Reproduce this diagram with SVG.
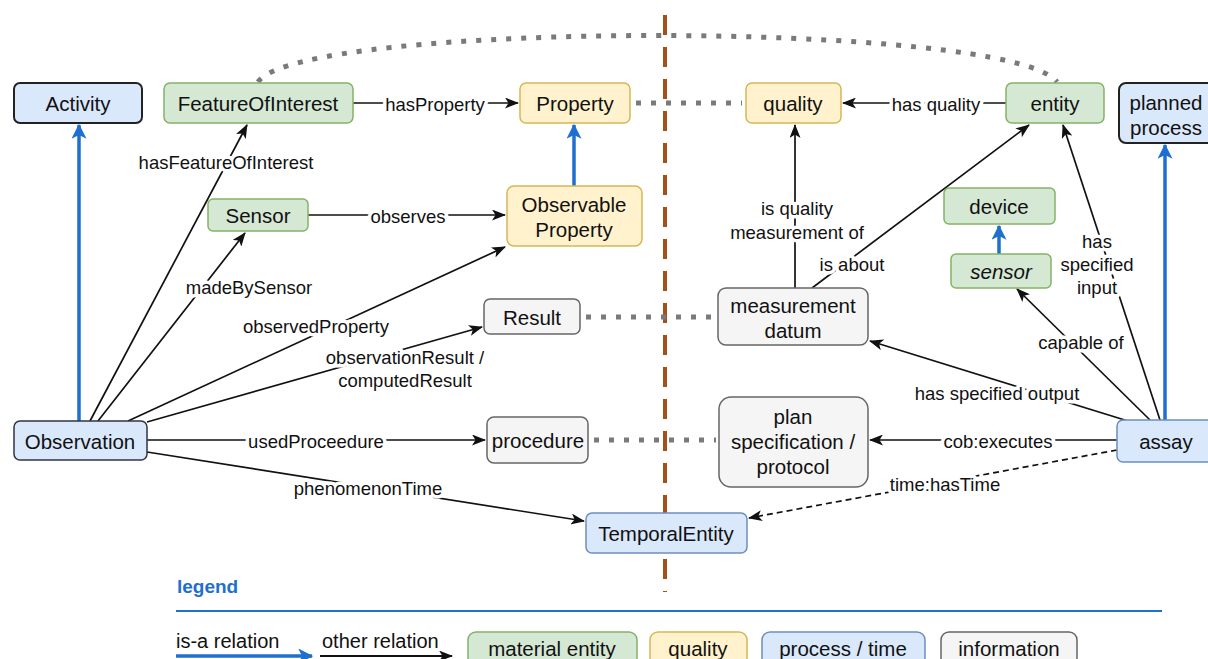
<svg xmlns="http://www.w3.org/2000/svg" width="1208" height="659" viewBox="0 0 1208 659">
<style>
text{font-family:"Liberation Sans",Arial,sans-serif;fill:#111}
.n{font-size:20.5px;text-anchor:middle;dominant-baseline:central}
.l{font-size:18.5px;text-anchor:middle;dominant-baseline:central;stroke:#fff;stroke-width:7px;paint-order:stroke;stroke-linejoin:round}
.g rect{fill:#d5e8d4;stroke:#82b366;stroke-width:1.5}
.y rect{fill:#fff2cc;stroke:#d6b656;stroke-width:1.5}
.b rect{fill:#dae8fc;stroke:#6c8ebf;stroke-width:1.5}
.bd rect{fill:#dae8fc;stroke:#222;stroke-width:2}
.i rect{fill:#f5f5f5;stroke:#666;stroke-width:1.5}
.e{stroke:#111;stroke-width:1.7;fill:none;marker-end:url(#ah)}
.isa{stroke:#1f6fd1;stroke-width:3.5;fill:none;marker-end:url(#bh)}
.dot{stroke:#7a7a7a;stroke-width:5;stroke-dasharray:5 10;fill:none}
</style>
<defs>
<marker id="ah" viewBox="0 0 14 11" refX="13" refY="5.5" markerWidth="14" markerHeight="11" markerUnits="userSpaceOnUse" orient="auto"><path d="M0,0 L14,5.5 L0,11 L3.5,5.5 z" fill="#111"/></marker>
<marker id="bh" viewBox="0 0 12 12" refX="11" refY="6" markerWidth="15" markerHeight="15" markerUnits="userSpaceOnUse" orient="auto"><path d="M0,0 L12,6 L0,12 L3,6 z" fill="#1f6fd1"/></marker>
</defs>
<rect width="1208" height="659" fill="#fff"/>
<line x1="665" y1="15" x2="665" y2="592" stroke="#a0521b" stroke-width="4" stroke-dasharray="20 12"/>
<g id="connectors">
<path class="dot" d="M258,82 C300,20 1010,20 1057,82"/>
<line class="dot" x1="636" y1="103" x2="742" y2="103"/>
<line class="dot" x1="586" y1="317" x2="714" y2="317"/>
<line class="dot" x1="594" y1="440" x2="716" y2="440"/>
<line class="isa" x1="79" y1="421" x2="79" y2="125"/>
<line class="isa" x1="1165" y1="420" x2="1165" y2="145"/>
<line class="isa" x1="574" y1="186" x2="574" y2="125"/>
<line class="isa" x1="999" y1="254" x2="999" y2="226"/>
<line class="e" x1="353" y1="103" x2="518" y2="103"/>
<text class="l" x="435" y="104">hasProperty</text>
<line class="e" x1="1006" y1="103" x2="843" y2="103"/>
<text class="l" x="936" y="104">has quality</text>
<line class="e" x1="90" y1="421" x2="247" y2="125"/>
<text class="l" x="226" y="162">hasFeatureOfInterest</text>
<line class="e" x1="98" y1="421" x2="245" y2="233"/>
<text class="l" x="249" y="287">madeBySensor</text>
<line class="e" x1="128" y1="421" x2="505" y2="247"/>
<text class="l" x="316" y="326">observedProperty</text>
<line class="e" x1="147" y1="422" x2="482" y2="327"/>
<text class="l" x="405" y="357">observationResult /</text>
<text class="l" x="405" y="380">computedResult</text>
<line class="e" x1="147" y1="440" x2="485" y2="440"/>
<text class="l" x="316" y="441">usedProceedure</text>
<line class="e" x1="147" y1="452" x2="584" y2="521"/>
<text class="l" x="368" y="488">phenomenonTime</text>
<line class="e" x1="308" y1="215" x2="505" y2="215"/>
<text class="l" x="408" y="216">observes</text>
<line class="e" x1="795" y1="288" x2="795" y2="125"/>
<text class="l" x="797" y="208">is quality</text>
<text class="l" x="797" y="232">measurement of</text>
<line class="e" x1="812" y1="288" x2="1029" y2="125"/>
<text class="l" x="852" y="264">is about</text>
<line class="e" x1="1160" y1="420" x2="1063" y2="125"/>
<text class="l" x="1097" y="241">has</text>
<text class="l" x="1097" y="264">specified</text>
<text class="l" x="1097" y="287">input</text>
<line class="e" x1="1150" y1="420" x2="1017" y2="289"/>
<text class="l" x="1081" y="342">capable of</text>
<line class="e" x1="1128" y1="421" x2="870" y2="341"/>
<text class="l" x="997" y="393">has specified output</text>
<line class="e" x1="1117" y1="440" x2="870" y2="440"/>
<text class="l" x="998" y="441">cob:executes</text>
<line class="e" x1="1117" y1="450" x2="749" y2="518" stroke-dasharray="6 4"/>
<text class="l" x="945" y="484">time:hasTime</text>
</g>
<g id="Activity" class="bd"><rect x="14" y="83" width="128" height="40" rx="6"/><text class="n" x="78" y="103">Activity</text></g>
<g id="FeatureOfInterest" class="g"><rect x="164" y="83" width="189" height="40" rx="6"/><text class="n" x="258" y="103">FeatureOfInterest</text></g>
<g id="Property" class="y"><rect x="520" y="83" width="110" height="40" rx="6"/><text class="n" x="575" y="103">Property</text></g>
<g id="quality" class="y"><rect x="746" y="83" width="95" height="40" rx="6"/><text class="n" x="793" y="103">quality</text></g>
<g id="entity" class="g"><rect x="1006" y="83" width="98" height="40" rx="6"/><text class="n" x="1055" y="103">entity</text></g>
<g id="plannedProcess" class="bd"><rect x="1119" y="83" width="100" height="60" rx="7"/><text class="n" x="1166" y="102">planned</text><text class="n" x="1166" y="127">process</text></g>
<g id="Sensor" class="g"><rect x="208" y="199" width="100" height="32" rx="5"/><text class="n" x="258" y="215">Sensor</text></g>
<g id="ObservableProperty" class="y"><rect x="507" y="186" width="135" height="60" rx="7"/><text class="n" x="574" y="204">Observable</text><text class="n" x="574" y="229">Property</text></g>
<g id="device" class="g"><rect x="944" y="188" width="111" height="36" rx="5"/><text class="n" x="999" y="206">device</text></g>
<g id="sensor" class="g"><rect x="951" y="254" width="100" height="34" rx="5"/><text class="n" x="1001" y="271" font-style="italic">sensor</text></g>
<g id="Result" class="i"><rect x="484" y="299" width="96" height="35" rx="6"/><text class="n" x="532" y="317">Result</text></g>
<g id="measurementDatum" class="i"><rect x="718" y="288" width="150" height="57" rx="8"/><text class="n" x="793" y="305">measurement</text><text class="n" x="793" y="330">datum</text></g>
<g id="Observation" class="b"><rect x="14" y="421" width="133" height="39" rx="6" style="stroke:#334"/><text class="n" x="80" y="441">Observation</text></g>
<g id="procedure" class="i"><rect x="487" y="417" width="101" height="46" rx="7"/><text class="n" x="538" y="440">procedure</text></g>
<g id="planSpecification" class="i"><rect x="719" y="397" width="149" height="90" rx="12"/><text class="n" x="793" y="416">plan</text><text class="n" x="793" y="441">specification /</text><text class="n" x="793" y="466">protocol</text></g>
<g id="assay" class="b"><rect x="1117" y="420" width="100" height="42" rx="6"/><text class="n" x="1166" y="441">assay</text></g>
<g id="TemporalEntity" class="b"><rect x="586" y="513" width="161" height="40" rx="6"/><text class="n" x="666" y="533">TemporalEntity</text></g>
<g id="legend">
<text x="177" y="593" style="font-size:19px;font-weight:bold;fill:#1f6fd1">legend</text>
<line x1="176" y1="611" x2="1162" y2="611" stroke="#1f6fd1" stroke-width="2"/>
<text x="176" y="648" style="font-size:20px">is-a relation</text>
<line class="isa" x1="176" y1="656" x2="312" y2="656"/>
<text x="322" y="648" style="font-size:20px">other relation</text>
<line x1="320" y1="656" x2="452" y2="656" stroke="#111" stroke-width="2" marker-end="url(#ah)"/>
<g class="g"><rect x="468" y="632" width="169" height="34" rx="8"/><text class="n" x="552" y="648">material entity</text></g>
<g class="y"><rect x="650" y="632" width="97" height="34" rx="8"/><text class="n" x="698" y="648">quality</text></g>
<g class="b"><rect x="762" y="632" width="163" height="34" rx="8"/><text class="n" x="843" y="648">process / time</text></g>
<g class="i"><rect x="941" y="632" width="136" height="34" rx="8"/><text class="n" x="1009" y="648">information</text></g>
</g>
</svg>
